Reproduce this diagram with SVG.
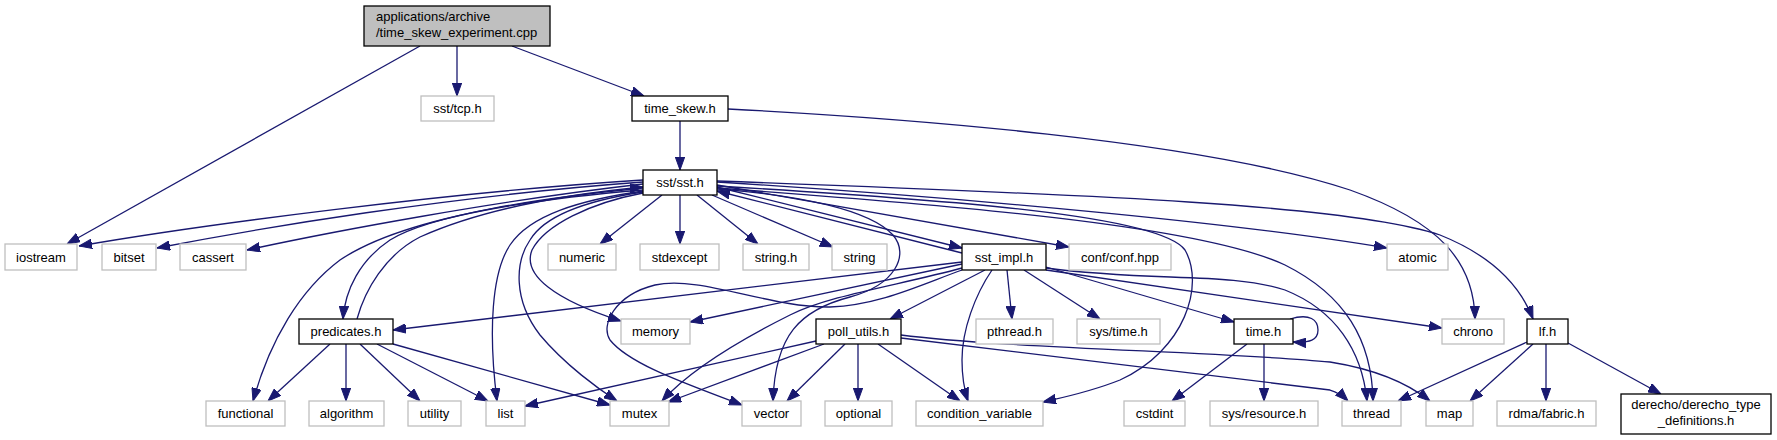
<svg xmlns="http://www.w3.org/2000/svg" width="1777" height="440" viewBox="0 0 1777 440">
<defs>
<style>
.n rect{fill:#ffffff;stroke:#000000;stroke-width:1.3}
.x rect{fill:#ffffff;stroke:#bfbfbf;stroke-width:1.3}
text{font-family:"Liberation Sans",Arial,Helvetica,sans-serif;font-size:13px;fill:#000000;text-anchor:middle}
.e{fill:none;stroke:#191970;stroke-width:1.3;marker-end:url(#ah)}
</style>
<marker id="ah" markerUnits="userSpaceOnUse" viewBox="0 0 13 10" refX="13" refY="5" markerWidth="13" markerHeight="10" orient="auto">
<path d="M0,0.3 L13,5 L0,9.7 z" fill="#191970" stroke="#191970" stroke-width="1"/>
</marker>
</defs>
<rect width="1777" height="440" fill="#ffffff"/>
<g id="edges">
<path class="e" d="M420,46 L67,244"/>
<path class="e" d="M457,46 L457,96"/>
<path class="e" d="M512,46 L644,96"/>
<path class="e" d="M680,121 L680,170"/>
<path class="e" d="M728,109 C900,118 1200,140 1350,190 C1440,222 1474,262 1475,319"/>
<path class="e" d="M643,180 C450,192 200,225 79,246"/>
<path class="e" d="M643,182 C450,196 260,228 157,248"/>
<path class="e" d="M643,184 C500,200 330,232 247,250"/>
<path class="e" d="M662,195 L600,244"/>
<path class="e" d="M680,195 L680,244"/>
<path class="e" d="M697,195 L758,244"/>
<path class="e" d="M712,195 L833,247"/>
<path class="e" d="M643,190 C520,200 400,220 340,260 C300,290 270,340 253,401"/>
<path class="e" d="M643,188 C540,198 430,215 390,240 C360,260 345,290 343,319"/>
<path class="e" d="M357,319 C365,290 385,255 420,237 C480,210 560,195 643,187"/>
<path class="e" d="M643,191 C580,200 530,215 510,245 C492,272 488,330 497,401"/>
<path class="e" d="M643,192 C590,200 545,215 530,240 C515,262 513,300 540,335 C565,365 600,390 617,401"/>
<path class="e" d="M643,193 C590,203 545,225 532,250 C522,275 555,300 621,321"/>
<path class="e" d="M717,187 L962,248"/>
<path class="e" d="M962,253 L717,191"/>
<path class="e" d="M717,185 L1069,247"/>
<path class="e" d="M717,182 C1000,200 1250,225 1387,248"/>
<path class="e" d="M717,181 C1100,195 1350,205 1440,235 C1490,255 1520,285 1533,319"/>
<path class="e" d="M717,186 C950,200 1160,215 1185,250 C1205,285 1185,350 1120,380 C1090,392 1065,397 1043,402"/>
<path class="e" d="M717,188 C950,205 1200,225 1285,265 C1345,295 1372,340 1373,401"/>
<path class="e" d="M717,189 C800,195 870,210 893,235 C910,255 895,285 850,297 C800,310 775,335 773,401"/>
<path class="e" d="M962,262 L393,330"/>
<path class="e" d="M962,264 L690,322"/>
<path class="e" d="M962,268 C900,285 830,295 790,315 C740,340 690,370 662,401"/>
<path class="e" d="M962,270 C920,285 880,305 830,307 C770,308 700,275 655,285 C615,295 600,325 610,340 C630,365 690,385 742,405"/>
<path class="e" d="M985,270 L890,319"/>
<path class="e" d="M992,270 C975,295 962,330 962,360 C962,380 965,392 968,401"/>
<path class="e" d="M1007,270 L1012,319"/>
<path class="e" d="M1024,270 L1100,319"/>
<path class="e" d="M1046,267 L1234,322"/>
<path class="e" d="M1046,270 L1442,328"/>
<path class="e" d="M1046,268 C1150,282 1230,272 1285,290 C1335,310 1362,350 1367,401"/>
<path class="e" d="M346,344 L346,401"/>
<path class="e" d="M330,344 L268,401"/>
<path class="e" d="M360,344 L420,401"/>
<path class="e" d="M377,344 L488,401"/>
<path class="e" d="M393,344 L610,405"/>
<path class="e" d="M816,341 L525,406"/>
<path class="e" d="M824,344 L668,402"/>
<path class="e" d="M845,344 L787,401"/>
<path class="e" d="M858,344 L858,401"/>
<path class="e" d="M878,344 L960,401"/>
<path class="e" d="M901,338 L1330,390 C1337,392 1343,396 1348,401"/>
<path class="e" d="M901,335 C1000,348 1230,352 1330,362 C1380,370 1410,385 1430,401"/>
<path class="e" d="M1290,319 C1310,313 1318,320 1318,330 C1318,340 1310,343 1293,342"/>
<path class="e" d="M1247,344 L1172,401"/>
<path class="e" d="M1264,344 L1264,401"/>
<path class="e" d="M1527,342 L1398,401"/>
<path class="e" d="M1533,344 L1470,401"/>
<path class="e" d="M1546,344 L1546,401"/>
<path class="e" d="M1568,343 L1661,394"/>
</g>
<g id="root" class="n"><rect x="364" y="6" width="186" height="40" style="fill:#bfbfbf"/><text x="376" y="21" style="text-anchor:start">applications/archive</text><text x="376" y="37" style="text-anchor:start">/time_skew_experiment.cpp</text></g>
<g id="tcp" class="x"><rect x="421" y="96" width="73" height="25"/><text x="457.5" y="113">sst/tcp.h</text></g>
<g id="time_skew" class="n"><rect x="632" y="96" width="96" height="25"/><text x="680" y="113">time_skew.h</text></g>
<g id="sst" class="n"><rect x="643" y="170" width="74" height="25"/><text x="680" y="187">sst/sst.h</text></g>
<g id="iostream" class="x"><rect x="5" y="244" width="72" height="26"/><text x="41" y="261.5">iostream</text></g>
<g id="bitset" class="x"><rect x="102" y="244" width="54" height="26"/><text x="129" y="261.5">bitset</text></g>
<g id="cassert" class="x"><rect x="180" y="244" width="66" height="26"/><text x="213" y="261.5">cassert</text></g>
<g id="numeric" class="x"><rect x="548" y="244" width="68" height="26"/><text x="582" y="261.5">numeric</text></g>
<g id="stdexcept" class="x"><rect x="640" y="244" width="79" height="26"/><text x="679.5" y="261.5">stdexcept</text></g>
<g id="string_h" class="x"><rect x="743" y="244" width="66" height="26"/><text x="776" y="261.5">string.h</text></g>
<g id="string" class="x"><rect x="832" y="244" width="55" height="26"/><text x="859.5" y="261.5">string</text></g>
<g id="sst_impl" class="n"><rect x="962" y="244" width="84" height="26"/><text x="1004" y="261.5">sst_impl.h</text></g>
<g id="conf" class="x"><rect x="1069" y="244" width="102" height="26"/><text x="1120" y="261.5">conf/conf.hpp</text></g>
<g id="atomic" class="x"><rect x="1387" y="244" width="61" height="26"/><text x="1417.5" y="261.5">atomic</text></g>
<g id="predicates" class="n"><rect x="299" y="319" width="94" height="25"/><text x="346" y="336">predicates.h</text></g>
<g id="memory" class="x"><rect x="621" y="319" width="69" height="25"/><text x="655.5" y="336">memory</text></g>
<g id="poll_utils" class="n"><rect x="816" y="319" width="85" height="25"/><text x="858.5" y="336">poll_utils.h</text></g>
<g id="pthread" class="x"><rect x="976" y="319" width="77" height="25"/><text x="1014.5" y="336">pthread.h</text></g>
<g id="sys_time" class="x"><rect x="1077" y="319" width="83" height="25"/><text x="1118.5" y="336">sys/time.h</text></g>
<g id="time_h" class="n"><rect x="1234" y="319" width="59" height="25"/><text x="1263.5" y="336">time.h</text></g>
<g id="chrono" class="x"><rect x="1442" y="319" width="62" height="25"/><text x="1473" y="336">chrono</text></g>
<g id="lf" class="n"><rect x="1527" y="319" width="41" height="25"/><text x="1547.5" y="336">lf.h</text></g>
<g id="functional" class="x"><rect x="206" y="401" width="79" height="25"/><text x="245.5" y="418">functional</text></g>
<g id="algorithm" class="x"><rect x="309" y="401" width="75" height="25"/><text x="346.5" y="418">algorithm</text></g>
<g id="utility" class="x"><rect x="408" y="401" width="53" height="25"/><text x="434.5" y="418">utility</text></g>
<g id="list" class="x"><rect x="486" y="401" width="39" height="25"/><text x="505.5" y="418">list</text></g>
<g id="mutex" class="x"><rect x="610" y="401" width="59" height="25"/><text x="639.5" y="418">mutex</text></g>
<g id="vector" class="x"><rect x="742" y="401" width="59" height="25"/><text x="771.5" y="418">vector</text></g>
<g id="optional" class="x"><rect x="825" y="401" width="67" height="25"/><text x="858.5" y="418">optional</text></g>
<g id="condition_variable" class="x"><rect x="916" y="401" width="127" height="25"/><text x="979.5" y="418">condition_variable</text></g>
<g id="cstdint" class="x"><rect x="1124" y="401" width="61" height="25"/><text x="1154.5" y="418">cstdint</text></g>
<g id="sys_resource" class="x"><rect x="1210" y="401" width="108" height="25"/><text x="1264" y="418">sys/resource.h</text></g>
<g id="thread" class="x"><rect x="1342" y="401" width="59" height="25"/><text x="1371.5" y="418">thread</text></g>
<g id="map" class="x"><rect x="1426" y="401" width="47" height="25"/><text x="1449.5" y="418">map</text></g>
<g id="fabric" class="x"><rect x="1497" y="401" width="99" height="25"/><text x="1546.5" y="418">rdma/fabric.h</text></g>
<g id="derecho" class="n"><rect x="1621" y="394" width="150" height="40"/><text x="1696" y="409">derecho/derecho_type</text><text x="1696" y="425">_definitions.h</text></g>
</svg>
